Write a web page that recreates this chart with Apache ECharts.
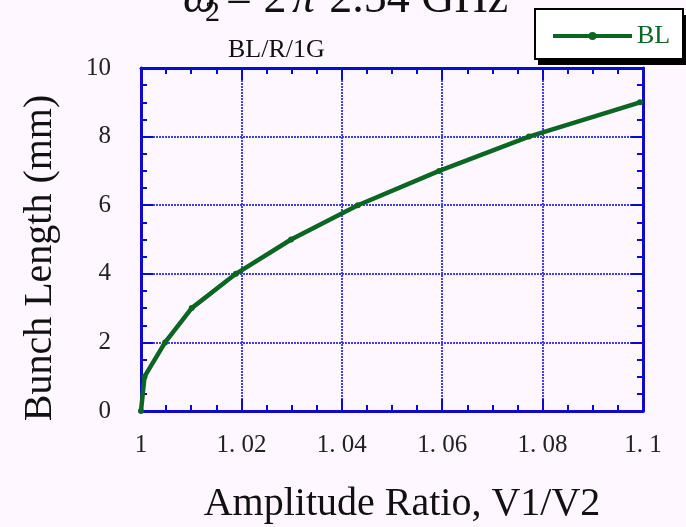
<!DOCTYPE html>
<html>
<head>
<meta charset="utf-8">
<script src="https://cdn.jsdelivr.net/npm/echarts@6/dist/echarts.min.js"></script>
<style>
html,body{margin:0;padding:0;background:#fff7ff;}
#chart{width:686px;height:527px;}
</style>
</head>
<body>
<div id="chart"></div>
<script>
// Data
const seriesName = 'BL';
const amplitudeRatio = [1.0, 1.0007, 1.0048, 1.0101, 1.0189, 1.0299, 1.0432, 1.0594, 1.0773, 1.0994];
const bunchLength = [0, 1, 2, 3, 4, 5, 6, 7, 8, 9];
const xTickLabels = ['1', '1. 02', '1. 04', '1. 06', '1. 08', '1. 1'];
const yTickLabels = ['0', '2', '4', '6', '8', '10'];

const SERIF = '"Liberation Serif", "DejaVu Serif", serif';
const AXIS_BLUE = '#0a0ad2';
const GRID_BLUE = '#4040f4';
const GREEN = '#0b6623';

const chart = echarts.init(document.getElementById('chart'), null, {renderer: 'canvas'});

const pts = amplitudeRatio.map((x, i) => [x, bunchLength[i]]);

function axisCommon(extra) {
  return Object.assign({
    type: 'value',
    axisLine: {show: true, onZero: false, lineStyle: {color: AXIS_BLUE, width: 3}},
    axisTick: {show: true, inside: true, length: 12, lineStyle: {color: AXIS_BLUE, width: 2}},
    minorTick: {show: true, splitNumber: 4, length: 6, lineStyle: {color: AXIS_BLUE, width: 2}},
    minorSplitLine: {show: false}
  }, extra);
}

const option = {
  backgroundColor: '#fff7ff',
  animation: false,
  grid: {left: 141, right: 43, top: 68, bottom: 116, containLabel: false},
  xAxis: [
    axisCommon({
      position: 'bottom', min: 1, max: 1.1, interval: 0.02,
      splitLine: {show: true, lineStyle: {color: GRID_BLUE, width: 2, type: [2, 1]}},
      axisLabel: {
        margin: 22, fontFamily: SERIF, fontSize: 25, color: '#222',
        formatter: v => xTickLabels[Math.round((v - 1) / 0.02)]
      }
    }),
    axisCommon({
      position: 'top', min: 1, max: 1.1, interval: 0.02,
      splitLine: {show: false}, axisLabel: {show: false}
    })
  ],
  yAxis: [
    axisCommon({
      position: 'left', min: 0, max: 10, interval: 2,
      splitLine: {show: true, lineStyle: {color: GRID_BLUE, width: 2, type: [2, 1]}},
      axisLabel: {
        margin: 30, fontFamily: SERIF, fontSize: 25, color: '#222',
        formatter: v => yTickLabels[Math.round(v / 2)]
      }
    }),
    axisCommon({
      position: 'right', min: 0, max: 10, interval: 2,
      splitLine: {show: false}, axisLabel: {show: false}
    })
  ],
  legend: {
    data: [{name: seriesName, lineStyle: {width: 4, color: GREEN}}],
    left: 551, top: 23, padding: 0,
    itemWidth: 79, itemHeight: 10,
    z: 30,
    textStyle: {color: GREEN, fontFamily: SERIF, fontSize: 26}
  },
  graphic: [
    // legend frame with drop shadow
    {type: 'rect', z: 20, shape: {x: 538, y: 15, width: 148, height: 50}, style: {fill: '#000'}},
    {type: 'rect', z: 21, shape: {x: 535, y: 9, width: 148, height: 50}, style: {fill: '#fff', stroke: '#000', lineWidth: 2}},
    // title pieces
    {type: 'text', z: 22, left: 183, top: -23, style: {text: 'ω', fontFamily: SERIF, fontStyle: 'italic', fontSize: 46, fill: '#111'}},
    {type: 'text', z: 22, left: 205, top: -2, style: {text: '2', fontFamily: SERIF, fontSize: 30, fill: '#111'}},
    {type: 'text', z: 22, left: 226, top: -23, style: {text: '= 2', fontFamily: SERIF, fontSize: 46, fill: '#111'}},
    {type: 'text', z: 22, left: 292, top: -23, style: {text: 'π', fontFamily: SERIF, fontStyle: 'italic', fontSize: 46, fill: '#111'}},
    {type: 'text', z: 22, left: 314, top: -23, style: {text: '·2.54 GHz', fontFamily: SERIF, fontSize: 46, fill: '#111'}},
    // subtitle
    {type: 'text', z: 22, left: 228, top: 37, style: {text: 'BL/R/1G', fontFamily: SERIF, fontSize: 26, fill: '#111'}},
    // axis titles
    {type: 'text', z: 22, x: 402, y: 504, style: {text: 'Amplitude Ratio, V1/V2', fontFamily: SERIF, fontSize: 40, fill: '#111', align: 'center', verticalAlign: 'middle'}},
    {type: 'text', z: 22, x: 40, y: 258, rotation: Math.PI / 2, style: {text: 'Bunch Length (mm)', fontFamily: SERIF, fontSize: 40, fill: '#111', align: 'center', verticalAlign: 'middle'}}
  ],
  series: [{
    name: seriesName,
    type: 'line',
    xAxisIndex: 0, yAxisIndex: 0,
    data: pts,
    smooth: false,
    symbol: 'circle', symbolSize: 6,
    lineStyle: {color: GREEN, width: 4.5},
    itemStyle: {color: GREEN},
    z: 5
  }]
};
chart.setOption(option);
</script>
</body>
</html>
